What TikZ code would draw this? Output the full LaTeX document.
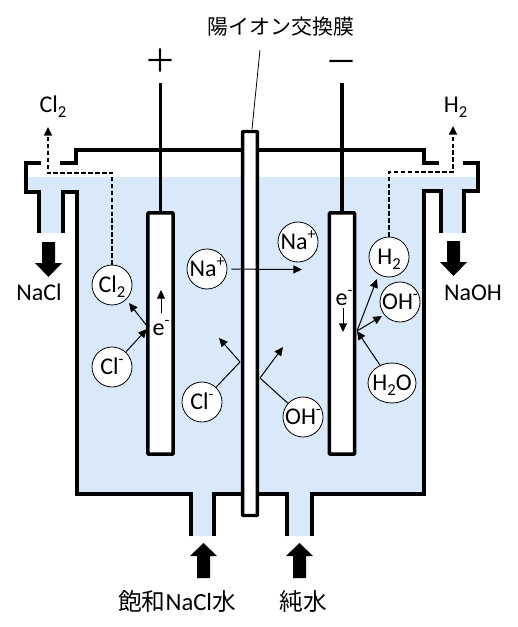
\documentclass[tikz,border=0pt]{standalone}
\usepackage{fontspec}
\setmainfont{Noto Sans CJK JP}
\newfontfamily\lat{Carlito}
\usetikzlibrary{arrows.meta,shapes.geometric}
\definecolor{water}{HTML}{DAE9FA}
\newcommand{\subn}[1]{\raisebox{-.22em}{\fontsize{12.5}{12.5}\selectfont #1}}
\newcommand{\supn}[1]{\raisebox{.42em}{\fontsize{12}{12}\selectfont #1}}
\newcommand{\iontxt}[1]{\raisebox{-.315em}[0pt][0pt]{\makebox[0pt][c]{#1}}}
\tikzset{
 wall/.style={line width=2.6pt,line join=miter,line cap=butt},
 ion/.style={circle,draw,line width=.6pt,fill=white,minimum size=30pt,inner sep=0pt,font=\lat\fontsize{18}{18}\selectfont},
 ionell/.style={ellipse,draw,line width=.6pt,fill=white,minimum width=36pt,minimum height=30pt,inner sep=0pt,font=\lat\fontsize{18}{18}\selectfont},
 elec/.style={draw,line width=2.6pt,fill=white,rounded corners=.6pt,inner sep=0pt},
 lab/.style={inner sep=0pt,font=\lat\fontsize{18}{18}\selectfont},
 biglab/.style={inner sep=0pt,font=\fontsize{15.7}{17}\selectfont},
 botlab/.style={inner sep=0pt,font=\fontsize{17.8}{18}\selectfont},
 thin arrow/.style={line width=.75pt,-{Triangle[length=6.5pt,width=6pt]}},
 gas/.style={line width=1.1pt,dash pattern=on 3.4pt off 1.8pt,-{Triangle[length=6.5pt,width=6pt]}},
 block/.style={fill=black,draw=none},
}
\begin{document}
\begin{tikzpicture}[x=.75pt,y=-.75pt]
\useasboundingbox (0,0) rectangle (517,627);
% water
\fill[water] (26,177) -- (478,177) -- (478,191) -- (464,191) -- (464,233) -- (441,233) -- (441,191) -- (424,191) -- (424,494) -- (312,494) -- (312,536) -- (287,536) -- (287,494) -- (214,494) -- (214,536) -- (191,536) -- (191,494) -- (77,494) -- (77,192) -- (63,192) -- (63,233) -- (39,233) -- (39,192) -- (26,192) -- cycle;
% vessel
\draw[wall] (39,233) -- (39,192) -- (26,192) -- (26,163) -- (41,163);
\draw[wall] (60,163) -- (76,163) -- (76,150) -- (424,150) -- (424,163) -- (439,163);
\draw[wall] (463,163) -- (478,163) -- (478,191) -- (464,191) -- (464,233);
\draw[wall] (63,233) -- (63,192) -- (77,192) -- (77,494) -- (191,494) -- (191,536);
\draw[wall] (214,536) -- (214,494) -- (287,494) -- (287,536);
\draw[wall] (312,536) -- (312,494) -- (424,494) -- (424,191) -- (441,191) -- (441,233);
% coordinates
\coordinate (rodA) at (160.5,83);
\coordinate (rodK) at (342,83);
\coordinate (labTip) at (252,129);
% membrane and electrodes
\node[elec,minimum width=11.2pt,minimum height=288pt] (mem) at (250,323.5) {};
\node[elec,minimum width=19pt,minimum height=181pt] (anode) at (160.5,333.5) {};
\node[elec,minimum width=19pt,minimum height=181pt] (cathode) at (342,333.5) {};
\draw[wall] (rodA) -- (anode.north);
\draw[wall] (rodK) -- (cathode.north);
% signs
\node[inner sep=0pt,font=\fontsize{24}{24}\selectfont] (plus) at (160.5,61) {＋};
\node[inner sep=0pt,font=\fontsize{24}{24}\selectfont] (minus) at (341,67) {－};
% labels
\node[biglab] (memlab) at (281,27) {陽イオン交換膜};
\draw[line width=.6pt] (260,50) -- (labTip);
\node[lab] (cl2out) at (53,105) {\iontxt{Cl\subn{2}}};
\node[lab] (h2out) at (455.5,105) {\iontxt{H\subn{2}}};
\node[lab] (nacl) at (39,293) {\iontxt{NaCl}};
\node[lab] (naoh) at (473,293) {\iontxt{NaOH}};
\node[botlab] (brine) at (177,601) {飽和{\lat\fontsize{18.5}{18}\selectfont NaCl}水};
\node[botlab] (pure) at (303.5,601) {純水};
\node[lab] (eA) at (161,328) {\iontxt{e\supn{-}}};
\node[lab] (eK) at (344,298) {\iontxt{e\supn{-}}};
% ions
\node[ion] (cl2) at (112,285) {\iontxt{Cl\subn{2}}};
\node[ion] (cla) at (112,367) {\iontxt{Cl\supn{-}}};
\node[ion] (clm) at (202,402) {\iontxt{Cl\supn{-}}};
\node[ion] (naa) at (207,269) {\iontxt{Na\supn{+}}};
\node[ion] (nab) at (298,242) {\iontxt{Na\supn{+}}};
\node[ion] (h2) at (389,257) {\iontxt{H\subn{2}}};
\node[ion] (ohr) at (400,302) {\iontxt{OH\supn{-}}};
\node[ion] (ohm) at (303,417) {\iontxt{OH\supn{-}}};
\node[ionell] (h2o) at (392,383) {\iontxt{H\subn{2}O}};
% reaction points
\coordinate (pA) at (147,326);
\coordinate (pK) at (357,331);
\coordinate (mL) at (240,362);
\coordinate (mR) at (260,378);
\coordinate (naEnd) at (302,269.5);
\coordinate (t1) at (129,303);
\coordinate (t2) at (219,338);
\coordinate (t3) at (283,347);
\coordinate (t4) at (377,279);
\coordinate (t5) at (382,316);
\coordinate (ea1) at (161,313);
\coordinate (ea2) at (161,290);
\coordinate (ek1) at (343,308);
\coordinate (ek2) at (343,332);
% arrows
\draw[thin arrow,shorten <=3pt] (naa) -- (naEnd);
\draw[thin arrow] (pA) -- (t1);
\draw[thin arrow] (cla) -- (147,329);
\draw[thin arrow] (ea1) -- (ea2);
\draw[thin arrow] (ek1) -- (ek2);
\draw[thin arrow] (clm) -- (mL) -- (t2);
\draw[thin arrow] (ohm) -- (mR) -- (t3);
\draw[thin arrow] (h2o) -- (pK);
\draw[thin arrow] (pK) -- (t4);
\draw[thin arrow] (pK) -- (t5);
% gas
\draw[gas] (cl2.north) -- (112,173) -- (48,173) -- (48,127);
\draw[gas] (h2.north) -- (389,172) -- (453,172) -- (453,126);
% block arrows
\fill[block] (42,242) -- (55,242) -- (55,263) -- (62,263) -- (48.5,277) -- (35,263) -- (42,263) -- cycle;
\fill[block] (447,241) -- (460,241) -- (460,262) -- (467,262) -- (453.5,276) -- (440,262) -- (447,262) -- cycle;
\fill[block] (197,578) -- (210,578) -- (210,556) -- (217,556) -- (203.5,543) -- (190,556) -- (197,556) -- cycle;
\fill[block] (293,578) -- (306,578) -- (306,556) -- (313,556) -- (299.5,543) -- (286,556) -- (293,556) -- cycle;
\end{tikzpicture}
\end{document}
